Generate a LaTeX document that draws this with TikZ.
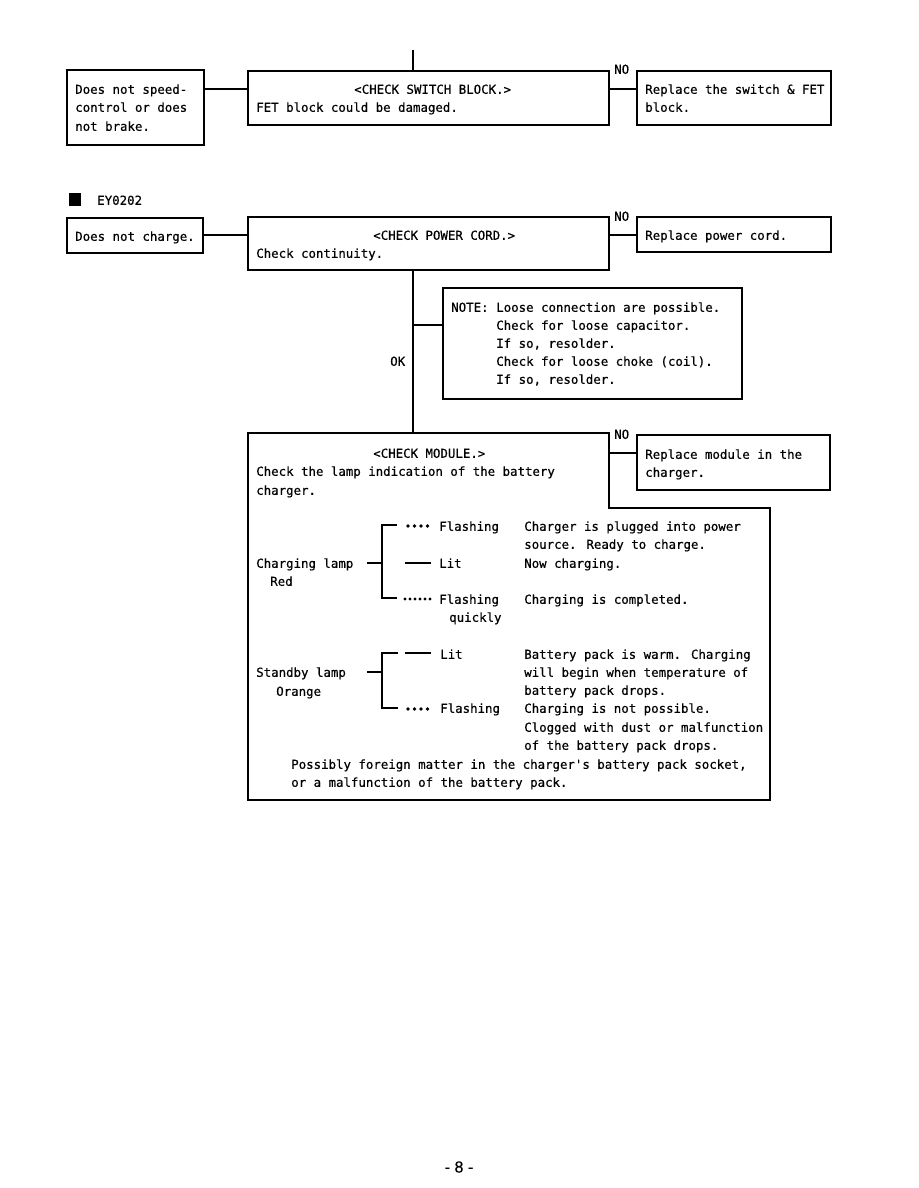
\documentclass[tikz,border=0pt]{standalone}
\usepackage{fontspec}
\newfontfamily\mono[FakeBold=0.5]{DejaVu Sans Mono}
\newfontfamily\pagefont[FakeBold=0.5]{Liberation Sans}
\usetikzlibrary{fit}
\begin{document}
\begin{tikzpicture}[x=0.75pt,y=-0.75pt,
  box/.style={draw, line width=1.1pt, inner sep=0pt, rectangle},
  heavy/.style={box, line width=1.7pt},
  txt/.style={anchor=mid west, inner sep=0pt, yshift=-2.2pt, font=\mono\fontsize{9.3}{13.5}\selectfont},
  conn/.style={line width=1pt},
  brk/.style={line width=0.9pt},
  dot/.style={fill=black}
]
\useasboundingbox (0,0) rectangle (918,1188);
\fill[white] (0,0) rectangle (918,1188);

% ---------- top section ----------
\node[heavy, fit={(67,70) (204,145)}] (spd) {};
\node[box, fit={(248,71) (609,125)}] (sw) {};
\node[box, fit={(637,71) (831,125)}] (rsw) {};
\coordinate (topin) at (413,50);
\draw[conn] (topin) -- (topin |- sw.north);
\draw[conn] (spd.east |- 0,89) -- (sw.west |- 0,89);
\draw[conn] (sw.east |- 0,89) -- (rsw.west |- 0,89);
\node[txt] (t1a) at (75,88) {Does not speed-};
\node[txt] (t1b) at (75,106) {control or does};
\node[txt] (t1c) at (75,125) {not brake.};
\node[txt] (t2a) at (354,88) {<CHECK SWITCH BLOCK.>};
\node[txt] (t2b) at (256,106) {FET block could be damaged.};
\node[txt] (no1) at (614,68) {NO};
\node[txt] (t3a) at (645,88) {Replace the switch \& FET};
\node[txt] (t3b) at (645,106) {block.};

% ---------- EY0202 ----------
\node[fill=black, inner sep=0pt, minimum width=9pt, minimum height=9.5pt, anchor=north west] (sq) at (69,193) {};
\node[txt] (ey) at (97,199) {EY0202};

\node[heavy, fit={(67,218) (203,253)}] (nc) {};
\node[box, fit={(248,217) (609,270)}] (pc) {};
\node[box, fit={(637,217) (831,252)}] (rpc) {};
\draw[conn] (nc.east |- 0,235) -- (pc.west |- 0,235);
\draw[conn] (pc.east |- 0,235) -- (rpc.west |- 0,235);
\node[txt] (t4) at (75,235) {Does not charge.};
\node[txt] (t5a) at (373,234) {<CHECK POWER CORD.>};
\node[txt] (t5b) at (256,252) {Check continuity.};
\node[txt] (no2) at (614,215) {NO};
\node[txt] (t6) at (645,234) {Replace power cord.};

% note box
\node[box, fit={(443,288) (742,399)}] (note) {};
\node[txt] (n0) at (451,306) {NOTE:};
\node[txt] (n1) at (496,306) {Loose connection are possible.};
\node[txt] (n2) at (496,324) {Check for loose capacitor.};
\node[txt] (n3) at (496,342) {If so, resolder.};
\node[txt] (n4) at (496,360) {Check for loose choke (coil).};
\node[txt] (n5) at (496,378) {If so, resolder.};
\node[txt] (ok) at (390,360) {OK};

% ---------- module ----------
\coordinate (mtl) at (248,433);
\coordinate (mtr) at (609,433);
\coordinate (mst) at (609,508);
\coordinate (msr) at (770,508);
\coordinate (mbr) at (770,800);
\coordinate (mbl) at (248,800);
\draw[line width=1.1pt] (mtl) -- (mtr) -- (mst) -- (msr) -- (mbr) -- (mbl) -- cycle;
\node[box, fit={(637,435) (830,490)}] (rmod) {};
\coordinate (okjoin) at (413,325);
\draw[conn] (pc.south -| topin) -- (topin |- mtl);
\draw[conn] (okjoin) -- (note.west |- okjoin);
\draw[conn] (mtr |- 0,453) -- (rmod.west |- 0,453);
\node[txt] (no3) at (614,433) {NO};
\node[txt] (m1) at (373,452) {<CHECK MODULE.>};
\node[txt] (m2) at (256,470) {Check the lamp indication of the battery};
\node[txt] (m3) at (256,489) {charger.};
\node[txt] (r1) at (645,453) {Replace module in the};
\node[txt] (r2) at (645,471) {charger.};

% charging lamp bracket
\node[txt] (cl1) at (256,562) {Charging lamp};
\node[txt] (cl2) at (270,580) {Red};
\draw[brk] (367,563) -- (382,563);
\draw[brk] (397,525) -- (382,525) -- (382,598) -- (397,598);
\foreach \x in {408,414.5,421,427.5} \fill[dot] (\x,526) circle (1.4pt);
\node[txt] (f1) at (439,525) {Flashing};
\draw[line width=1.2pt] (405,563) -- (431,563);
\node[txt] (l1) at (439,562) {Lit};
\foreach \x in {405,410,415,420,425,430} \fill[dot] (\x,599) circle (1.3pt);
\node[txt] (f2) at (439,598) {Flashing};
\node[txt] (q) at (449,616) {quickly};
\node[txt] (d1) at (524,525) {Charger is plugged into power};
\node[txt] (d2) at (524,543) {source. Ready to charge.};
\node[txt] (d3) at (524,562) {Now charging.};
\node[txt] (d4) at (524,598) {Charging is completed.};

% standby lamp bracket
\node[txt] (sl1) at (256,671) {Standby lamp};
\node[txt] (sl2) at (276,690) {Orange};
\draw[brk] (367,672) -- (382,672);
\draw[brk] (398,653) -- (382,653) -- (382,708) -- (398,708);
\draw[line width=1.2pt] (405,653) -- (431,653);
\node[txt] (l2) at (440,653) {Lit};
\foreach \x in {408,414.5,421,427.5} \fill[dot] (\x,709) circle (1.4pt);
\node[txt] (f3) at (440,707) {Flashing};
\node[txt] (e1) at (524,653) {Battery pack is warm. Charging};
\node[txt] (e2) at (524,671) {will begin when temperature of};
\node[txt] (e3) at (524,689) {battery pack drops.};
\node[txt] (e4) at (524,707) {Charging is not possible.};
\node[txt] (e5) at (524,726) {Clogged with dust or malfunction};
\node[txt] (e6) at (524,744) {of the battery pack drops.};
\node[txt] (p1) at (291,763) {Possibly foreign matter in the charger's battery pack socket,};
\node[txt] (p2) at (291,781) {or a malfunction of the battery pack.};

% page number
\node[inner sep=0pt, font=\pagefont\fontsize{12}{14}\selectfont] (pg) at (459,1167) {- 8 -};
\end{tikzpicture}
\end{document}
